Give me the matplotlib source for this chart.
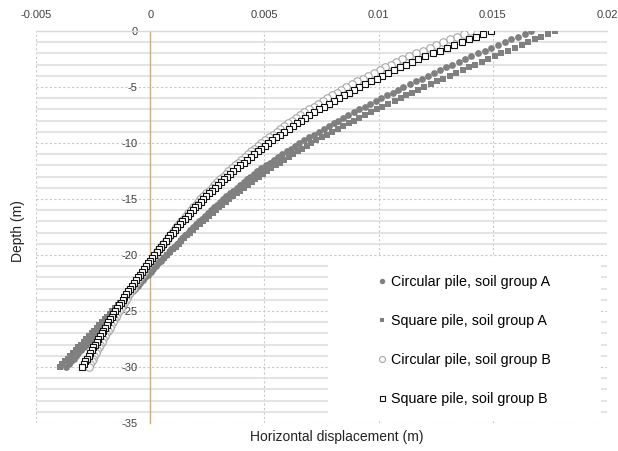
import numpy as np
import matplotlib
matplotlib.use("Agg")
import matplotlib.pyplot as plt
from matplotlib.ticker import MultipleLocator
from matplotlib.patches import Rectangle

plt.rcParams["font.family"] = ["Liberation Sans", "DejaVu Sans"]
plt.rcParams["axes.unicode_minus"] = False

# depth below pile head (m), one reading every 0.25 m
depth_m = [
    0.0, -0.25, -0.5, -0.75, -1.0, -1.25, -1.5, -1.75, -2.0, -2.25,
    -2.5, -2.75, -3.0, -3.25, -3.5, -3.75, -4.0, -4.25, -4.5, -4.75,
    -5.0, -5.25, -5.5, -5.75, -6.0, -6.25, -6.5, -6.75, -7.0, -7.25,
    -7.5, -7.75, -8.0, -8.25, -8.5, -8.75, -9.0, -9.25, -9.5, -9.75,
    -10.0, -10.25, -10.5, -10.75, -11.0, -11.25, -11.5, -11.75, -12.0, -12.25,
    -12.5, -12.75, -13.0, -13.25, -13.5, -13.75, -14.0, -14.25, -14.5, -14.75,
    -15.0, -15.25, -15.5, -15.75, -16.0, -16.25, -16.5, -16.75, -17.0, -17.25,
    -17.5, -17.75, -18.0, -18.25, -18.5, -18.75, -19.0, -19.25, -19.5, -19.75,
    -20.0, -20.25, -20.5, -20.75, -21.0, -21.25, -21.5, -21.75, -22.0, -22.25,
    -22.5, -22.75, -23.0, -23.25, -23.5, -23.75, -24.0, -24.25, -24.5, -24.75,
    -25.0, -25.25, -25.5, -25.75, -26.0, -26.25, -26.5, -26.75, -27.0, -27.25,
    -27.5, -27.75, -28.0, -28.25, -28.5, -28.75, -29.0, -29.25, -29.5, -29.75,
    -30.0,
]

# horizontal displacement (mm)
circ_a_mm = [
    16.69, 16.40, 16.11, 15.81, 15.52, 15.23, 14.94, 14.65, 14.35, 14.06,
    13.77, 13.50, 13.23, 12.97, 12.70, 12.43, 12.16, 11.89, 11.63, 11.36,
    11.09, 10.85, 10.61, 10.36, 10.12, 9.88, 9.64, 9.40, 9.15, 8.91,
    8.67, 8.46, 8.24, 8.03, 7.81, 7.60, 7.38, 7.17, 6.95, 6.74,
    6.52, 6.34, 6.15, 5.97, 5.79, 5.61, 5.42, 5.24, 5.06, 4.87,
    4.69, 4.54, 4.39, 4.24, 4.09, 3.94, 3.78, 3.63, 3.48, 3.33,
    3.18, 3.05, 2.92, 2.79, 2.66, 2.53, 2.40, 2.27, 2.14, 2.01,
    1.88, 1.76, 1.64, 1.52, 1.40, 1.29, 1.17, 1.05, 0.93, 0.81,
    0.69, 0.58, 0.47, 0.35, 0.24, 0.13, 0.02, -0.09, -0.21, -0.32,
    -0.43, -0.54, -0.65, -0.76, -0.87, -0.98, -1.08, -1.19, -1.30, -1.41,
    -1.52, -1.63, -1.74, -1.84, -1.95, -2.06, -2.17, -2.28, -2.38, -2.49,
    -2.60, -2.71, -2.81, -2.92, -3.03, -3.14, -3.24, -3.35, -3.46, -3.56,
    -3.67,
]
sq_a_mm = [
    17.71, 17.42, 17.13, 16.84, 16.55, 16.26, 15.96, 15.67, 15.38, 15.09,
    14.80, 14.52, 14.24, 13.96, 13.68, 13.40, 13.12, 12.84, 12.56, 12.28,
    12.00, 11.74, 11.48, 11.22, 10.96, 10.70, 10.43, 10.17, 9.91, 9.65,
    9.39, 9.16, 8.92, 8.69, 8.45, 8.22, 7.98, 7.75, 7.51, 7.28,
    7.04, 6.85, 6.65, 6.46, 6.26, 6.07, 5.88, 5.68, 5.49, 5.29,
    5.10, 4.94, 4.77, 4.61, 4.44, 4.28, 4.11, 3.95, 3.78, 3.62,
    3.45, 3.31, 3.16, 3.02, 2.88, 2.74, 2.59, 2.45, 2.31, 2.16,
    2.02, 1.89, 1.76, 1.63, 1.50, 1.37, 1.24, 1.11, 0.98, 0.85,
    0.72, 0.60, 0.48, 0.35, 0.23, 0.11, -0.01, -0.13, -0.26, -0.38,
    -0.50, -0.62, -0.73, -0.85, -0.96, -1.08, -1.20, -1.31, -1.43, -1.54,
    -1.66, -1.77, -1.89, -2.00, -2.12, -2.23, -2.34, -2.46, -2.57, -2.69,
    -2.80, -2.92, -3.03, -3.15, -3.26, -3.38, -3.49, -3.61, -3.72, -3.84,
    -3.95,
]
circ_b_mm = [
    14.02, 13.72, 13.42, 13.12, 12.82, 12.53, 12.23, 11.93, 11.63, 11.33,
    11.03, 10.78, 10.54, 10.29, 10.05, 9.80, 9.55, 9.31, 9.06, 8.82,
    8.57, 8.37, 8.16, 7.96, 7.76, 7.56, 7.35, 7.15, 6.95, 6.74,
    6.54, 6.37, 6.20, 6.03, 5.86, 5.70, 5.53, 5.36, 5.19, 5.02,
    4.85, 4.71, 4.56, 4.42, 4.28, 4.14, 3.99, 3.85, 3.71, 3.56,
    3.42, 3.30, 3.18, 3.05, 2.93, 2.81, 2.69, 2.57, 2.44, 2.32,
    2.20, 2.09, 1.99, 1.88, 1.78, 1.67, 1.56, 1.46, 1.35, 1.25,
    1.14, 1.05, 0.95, 0.86, 0.77, 0.68, 0.58, 0.49, 0.40, 0.30,
    0.21, 0.13, 0.04, -0.04, -0.12, -0.21, -0.29, -0.37, -0.45, -0.54,
    -0.62, -0.70, -0.77, -0.85, -0.92, -1.00, -1.07, -1.15, -1.22, -1.30,
    -1.37, -1.44, -1.51, -1.58, -1.65, -1.72, -1.78, -1.85, -1.92, -1.99,
    -2.06, -2.12, -2.19, -2.25, -2.31, -2.38, -2.44, -2.50, -2.56, -2.63,
    -2.69,
]
sq_b_mm = [
    14.90, 14.58, 14.27, 13.95, 13.63, 13.32, 13.00, 12.68, 12.36, 12.05,
    11.73, 11.47, 11.21, 10.95, 10.69, 10.43, 10.17, 9.91, 9.65, 9.39,
    9.13, 8.91, 8.70, 8.48, 8.27, 8.05, 7.83, 7.62, 7.40, 7.19,
    6.97, 6.79, 6.61, 6.43, 6.25, 6.07, 5.88, 5.70, 5.52, 5.34,
    5.16, 5.01, 4.85, 4.70, 4.55, 4.40, 4.24, 4.09, 3.94, 3.78,
    3.63, 3.50, 3.37, 3.24, 3.11, 2.98, 2.84, 2.71, 2.58, 2.45,
    2.32, 2.21, 2.09, 1.98, 1.86, 1.75, 1.64, 1.52, 1.41, 1.29,
    1.18, 1.08, 0.98, 0.88, 0.78, 0.68, 0.58, 0.48, 0.38, 0.28,
    0.18, 0.09, 0.00, -0.09, -0.18, -0.27, -0.36, -0.45, -0.54, -0.63,
    -0.72, -0.80, -0.88, -0.96, -1.04, -1.13, -1.21, -1.29, -1.37, -1.45,
    -1.53, -1.61, -1.68, -1.76, -1.83, -1.91, -1.98, -2.06, -2.13, -2.21,
    -2.28, -2.35, -2.42, -2.49, -2.56, -2.63, -2.70, -2.77, -2.84, -2.91,
    -2.98,
]

series_labels = [
    "Circular pile, soil group A",
    "Square pile, soil group A",
    "Circular pile, soil group B",
    "Square pile, soil group B",
]
x_ticks = [-0.005, 0, 0.005, 0.01, 0.015, 0.02]
x_tick_labels = ["-0.005", "0", "0.005", "0.01", "0.015", "0.02"]
y_ticks = [0, -5, -10, -15, -20, -25, -30, -35]

# ----------------------------------------------------------------------------
fig = plt.figure(figsize=(6.18, 4.51), dpi=100)
ax = fig.add_axes([36 / 618, 1 - 423 / 451, 571 / 618, 392 / 451])

depth = np.array(depth_m)
styles = [
    (circ_a_mm, dict(marker="o", ms=4.9, mfc="#808080", mec="#808080", mew=0)),
    (sq_a_mm,   dict(marker="s", ms=3.9, mfc="#808080", mec="#808080", mew=0)),
    (circ_b_mm, dict(marker="o", ms=5.4, mfc="white", mec="#a6a6a6", mew=0.8)),
    (sq_b_mm,   dict(marker="s", ms=4.5, mfc="white", mec="#111111", mew=0.8)),
]
for (vals, st), lab in zip(styles, series_labels):
    ax.plot(np.array(vals) / 1000.0, depth, ls="none", label=lab,
            zorder=3, **st)

ax.set_xlim(-0.005, 0.02)
ax.set_ylim(-35, 0)
ax.set_xticks(x_ticks)
ax.set_xticklabels(x_tick_labels)
ax.set_yticks(y_ticks)
ax.yaxis.set_minor_locator(MultipleLocator(1))

ax.xaxis.tick_top()
ax.tick_params(axis="x", which="both", length=0, pad=8,
               labelsize=8, labelcolor="#404040")
ax.tick_params(axis="y", which="both", length=0, pad=9,
               labelsize=8, labelcolor="#404040")

# gridlines: solid every metre, dashed every 5 m, dotted verticals
ax.grid(which="minor", axis="y", color="#dcdcdc", lw=1.1, ls="-")
ax.grid(which="major", axis="y", color="#c8c8c8", lw=0.8, ls=(0, (2, 2)))
ax.grid(which="major", axis="x", color="#c8c8c8", lw=0.8, ls=(0, (2, 2)))
ax.set_axisbelow(True)

ax.spines["left"].set_position(("data", 0))
ax.spines["left"].set_color("#d4b06a")
ax.spines["left"].set_linewidth(1.0)
ax.spines["top"].set_color("#d9d9d9")
ax.spines["top"].set_linewidth(1.0)
ax.spines["right"].set_visible(False)
ax.spines["bottom"].set_visible(False)

# white legend area
ax.add_patch(Rectangle((0.5114, 0.008), 0.478, 0.415, transform=ax.transAxes,
                       facecolor="white", edgecolor="none", zorder=2.6))
ax.legend(loc="center", bbox_to_anchor=(0.7504, 0.211), frameon=False,
          fontsize=10.3, labelspacing=1.75, handlelength=0.6,
          handletextpad=0.3, markerscale=0.8)

fig.text(337 / 618, 1 - 437 / 451, "Horizontal displacement (m)",
         ha="center", va="center", fontsize=10, color="#222222")
fig.text(18 / 618, 1 - 231 / 451, "Depth (m)", rotation=90,
         ha="center", va="center", fontsize=10, color="#222222")

fig.savefig("out.png", dpi=100)
